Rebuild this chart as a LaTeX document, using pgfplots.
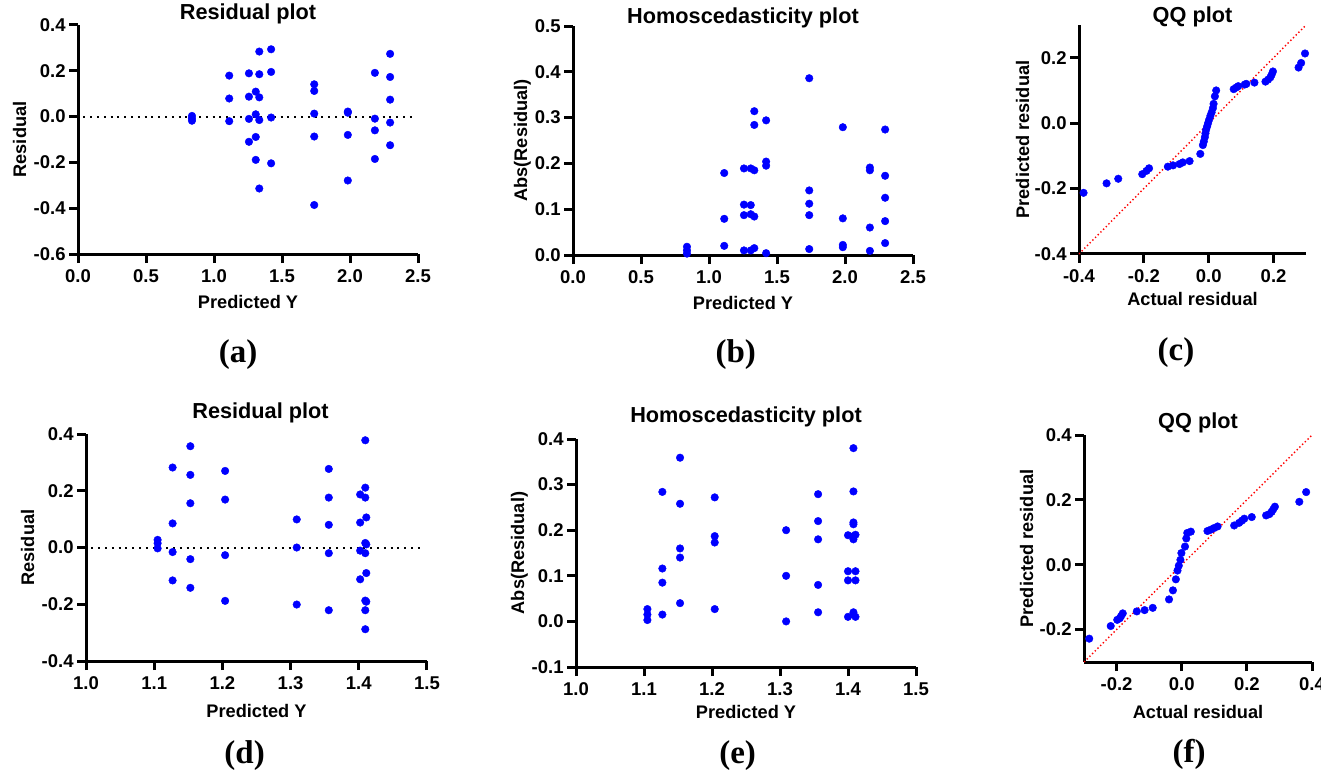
\documentclass[border=0pt]{standalone}
\usepackage{pgfplots}
\pgfplotsset{compat=1.18}
\usepackage{fontspec}
\setmainfont{Liberation Sans}
\newfontfamily\timesbf{Liberation Serif}
\definecolor{pblue}{RGB}{0,0,255}
\definecolor{pred}{RGB}{255,0,0}
\pgfplotsset{
  prism/.style={
    scale only axis, clip=false,
    axis x line*=bottom, axis y line*=left,
    axis line style={line width=1.5pt, -},
    every tick/.style={line width=1.5pt, black},
    major tick length=4.5pt,
    tick align=outside,
    minor tick num=0,
    tick label style={font=\bfseries\fontsize{9.25}{10}\selectfont},
    yticklabel style={inner sep=1.5pt},
    label style={font=\bfseries\fontsize{9.1}{10}\selectfont},
    title style={font=\bfseries\fontsize{10.85}{12}\selectfont},
    /pgf/number format/assume math mode=true,
    /pgf/number format/fixed,
    /pgf/number format/fixed zerofill,
    /pgf/number format/precision=1,
    scaled ticks=false,
  },
  pts/.style={only marks, mark=*, mark size=1.9pt, mark options={fill=pblue, draw=pblue, line width=0.2pt}},
  zeroline/.style={black, line width=1pt, dash pattern=on 1pt off 2.4pt, mark=none},
  diag/.style={pred, line width=0.7pt, dash pattern=on 0.7pt off 1.2pt, mark=none},
}
\begin{document}
\begin{tikzpicture}
\useasboundingbox (0,0) rectangle (660.5pt,-385pt);
% (a)
\begin{axis}[prism, at={(39pt,-127pt)}, anchor=south west, width=170pt, height=114.5pt,
  xmin=0, xmax=2.5, ymin=-0.6, ymax=0.4,
  xtick={0,0.5,1,1.5,2,2.5}, ytick={-0.6,-0.4,-0.2,0,0.2,0.4},
  title={Residual plot}, title style={at={(axis description cs:0.5,1)}, anchor=base, yshift=-3.5pt},
  xlabel={Predicted Y}, xlabel style={at={(axis description cs:0.5,0)}, anchor=base, yshift=-27pt},
  ylabel={Residual}, ylabel style={at={([xshift=-26pt]axis description cs:0,0.5)}, anchor=base, rotate=0}]
\addplot[zeroline] coordinates {(0.04,0) (2.46,0)};
\addplot[pts] coordinates {
(0.838,0.003) (0.838,-0.008) (0.838,-0.018)
(1.112,0.179) (1.112,0.079) (1.112,-0.020)
(1.257,0.189) (1.257,0.087) (1.257,-0.010) (1.257,-0.110)
(1.307,0.109) (1.307,0.010) (1.307,-0.089) (1.307,-0.189)
(1.333,0.284) (1.333,0.185) (1.333,0.084) (1.333,-0.015) (1.333,-0.314)
(1.420,0.294) (1.420,0.195) (1.420,-0.004) (1.420,-0.204)
(1.737,0.141) (1.737,0.112) (1.737,0.013) (1.737,-0.087) (1.737,-0.386)
(1.984,0.022) (1.984,0.017) (1.984,-0.080) (1.984,-0.279)
(2.183,0.191) (2.183,-0.009) (2.183,-0.060) (2.183,-0.185)
(2.295,0.274) (2.295,0.173) (2.295,0.074) (2.295,-0.026) (2.295,-0.125)
};
\end{axis}
% (b)
\begin{axis}[prism, at={(286.5pt,-127.5pt)}, anchor=south west, width=170pt, height=114.5pt,
  xmin=0, xmax=2.5, ymin=0, ymax=0.5,
  xtick={0,0.5,1,1.5,2,2.5}, ytick={0,0.1,0.2,0.3,0.4,0.5},
  title={Homoscedasticity plot}, title style={at={(axis description cs:0.5,1)}, anchor=base, yshift=-4.5pt},
  xlabel={Predicted Y}, xlabel style={at={(axis description cs:0.5,0)}, anchor=base, yshift=-27pt},
  ylabel={Abs(Residual)}, ylabel style={at={([xshift=-23pt]axis description cs:0,0.5)}, anchor=base, rotate=0}]
\addplot[pts] coordinates {
(0.838,0.003) (0.838,0.010) (0.838,0.018)
(1.112,0.179) (1.112,0.079) (1.112,0.020)
(1.257,0.189) (1.257,0.087) (1.257,0.010) (1.257,0.110)
(1.307,0.109) (1.307,0.010) (1.307,0.089) (1.307,0.189)
(1.333,0.284) (1.333,0.185) (1.333,0.084) (1.333,0.015) (1.333,0.314)
(1.420,0.294) (1.420,0.195) (1.420,0.004) (1.420,0.204)
(1.737,0.141) (1.737,0.112) (1.737,0.013) (1.737,0.087) (1.737,0.386)
(1.984,0.022) (1.984,0.017) (1.984,0.080) (1.984,0.279)
(2.183,0.191) (2.183,0.009) (2.183,0.060) (2.183,0.185)
(2.295,0.274) (2.295,0.173) (2.295,0.074) (2.295,0.026) (2.295,0.125)
};
\end{axis}
% (c)
\begin{axis}[prism, at={(539.5pt,-127pt)}, anchor=south west, width=113.5pt, height=114.5pt,
  xmin=-0.4, xmax=0.3, ymin=-0.4, ymax=0.3,
  xtick={-0.4,-0.2,0,0.2}, ytick={-0.4,-0.2,0,0.2},
  title={QQ plot}, title style={at={(axis description cs:0.5,1)}, anchor=base, yshift=-4.5pt},
  xlabel={Actual residual}, xlabel style={at={(axis description cs:0.5,0)}, anchor=base, yshift=-25.5pt},
  ylabel={Predicted residual}, ylabel style={at={([xshift=-25pt]axis description cs:0,0.5)}, anchor=base, rotate=0}]
\addplot[diag] coordinates {(-0.4,-0.4) (0.3,0.3)};
\addplot[pts] coordinates {
(-0.386,-0.213) (-0.315,-0.184) (-0.279,-0.170) (-0.205,-0.156) (-0.192,-0.146)
(-0.184,-0.138) (-0.126,-0.133) (-0.110,-0.129) (-0.090,-0.125) (-0.080,-0.120)
(-0.059,-0.116) (-0.026,-0.094) (-0.018,-0.067) (-0.015,-0.056) (-0.012,-0.043)
(-0.010,-0.031) (-0.008,-0.020) (-0.005,-0.010) (-0.002,0.000) (0.001,0.010)
(0.005,0.022) (0.009,0.033) (0.013,0.046) (0.015,0.059) (0.019,0.082)
(0.023,0.100) (0.077,0.104) (0.085,0.109) (0.091,0.113) (0.111,0.118)
(0.116,0.120) (0.141,0.124) (0.175,0.127) (0.183,0.133) (0.190,0.140)
(0.194,0.148) (0.198,0.158) (0.277,0.170) (0.285,0.184) (0.297,0.213)
};
\end{axis}
% (d)
\begin{axis}[prism, at={(43pt,-330.5pt)}, anchor=south west, width=170.5pt, height=113.5pt,
  xmin=1, xmax=1.5, ymin=-0.4, ymax=0.4,
  xtick={1,1.1,1.2,1.3,1.4,1.5}, ytick={-0.4,-0.2,0,0.2,0.4},
  title={Residual plot}, title style={at={(axis description cs:0.5,1)}, anchor=base, yshift=1.6pt, xshift=2pt},
  xlabel={Predicted Y}, xlabel style={at={(axis description cs:0.5,0)}, anchor=base, yshift=-28pt},
  ylabel={Residual}, ylabel style={at={([xshift=-26pt]axis description cs:0,0.5)}, anchor=base, rotate=0}]
\addplot[zeroline] coordinates {(1.008,0) (1.493,0)};
\addplot[pts] coordinates {
(1.105,0.027) (1.105,0.015) (1.105,-0.003)
(1.127,0.282) (1.127,0.085) (1.127,-0.016) (1.127,-0.116)
(1.153,0.357) (1.153,0.256) (1.153,0.156) (1.153,-0.041) (1.153,-0.142)
(1.204,0.270) (1.204,0.169) (1.204,-0.027) (1.204,-0.188)
(1.309,0.099) (1.309,0.000) (1.309,-0.201)
(1.356,0.277) (1.356,0.176) (1.356,0.080) (1.356,-0.020) (1.356,-0.221)
(1.402,0.187) (1.402,0.088) (1.402,-0.011) (1.402,-0.112)
(1.4095,0.378) (1.4095,0.211) (1.4095,0.176) (1.4095,0.016) (1.4095,-0.020) (1.4095,-0.187) (1.4095,-0.221) (1.4095,-0.288)
(1.411,0.106) (1.411,0.011) (1.411,-0.090) (1.411,-0.191)
};
\end{axis}
% (e)
\begin{axis}[prism, at={(288pt,-333.5pt)}, anchor=south west, width=170pt, height=114pt,
  xmin=1, xmax=1.5, ymin=-0.1, ymax=0.4,
  xtick={1,1.1,1.2,1.3,1.4,1.5}, ytick={-0.1,0,0.1,0.2,0.3,0.4},
  title={Homoscedasticity plot}, title style={at={(axis description cs:0.5,1)}, anchor=base, yshift=2.5pt},
  xlabel={Predicted Y}, xlabel style={at={(axis description cs:0.5,0)}, anchor=base, yshift=-25.5pt},
  ylabel={Abs(Residual)}, ylabel style={at={([xshift=-26pt]axis description cs:0,0.5)}, anchor=base, rotate=0}]
\addplot[pts] coordinates {
(1.105,0.027) (1.105,0.015) (1.105,0.003)
(1.127,0.284) (1.127,0.085) (1.127,0.015) (1.127,0.116)
(1.153,0.359) (1.153,0.258) (1.153,0.160) (1.153,0.040) (1.153,0.140)
(1.204,0.272) (1.204,0.173) (1.204,0.027) (1.204,0.187)
(1.309,0.100) (1.309,0.000) (1.309,0.200)
(1.356,0.279) (1.356,0.180) (1.356,0.080) (1.356,0.020) (1.356,0.220)
(1.400,0.189) (1.400,0.090) (1.400,0.010) (1.400,0.110)
(1.408,0.380) (1.408,0.213) (1.408,0.180) (1.408,0.015) (1.408,0.020) (1.408,0.187) (1.408,0.217) (1.408,0.285)
(1.411,0.110) (1.411,0.010) (1.411,0.090) (1.411,0.190)
};
\end{axis}
% (f)
\begin{axis}[prism, at={(542pt,-331pt)}, anchor=south west, width=114pt, height=113.5pt,
  xmin=-0.3, xmax=0.4, ymin=-0.3, ymax=0.4,
  xtick={-0.2,0,0.2,0.4}, ytick={-0.2,0,0.2,0.4},
  title={QQ plot}, title style={at={(axis description cs:0.5,1)}, anchor=base, yshift=-2.8pt},
  xlabel={Actual residual}, xlabel style={at={(axis description cs:0.5,0)}, anchor=base, yshift=-28pt},
  ylabel={Predicted residual}, ylabel style={at={([xshift=-25.5pt]axis description cs:0,0.5)}, anchor=base, rotate=0}]
\addplot[diag] coordinates {(-0.3,-0.3) (0.4,0.4)};
\addplot[pts] coordinates {
(-0.284,-0.228) (-0.218,-0.189) (-0.198,-0.170) (-0.190,-0.165) (-0.186,-0.158)
(-0.181,-0.150) (-0.138,-0.144) (-0.114,-0.140) (-0.089,-0.133) (-0.039,-0.107)
(-0.027,-0.079) (-0.018,-0.045) (-0.013,-0.018) (-0.009,-0.003) (-0.004,0.015)
(-0.001,0.036) (0.010,0.056) (0.014,0.081) (0.017,0.098) (0.028,0.102)
(0.079,0.104) (0.089,0.108) (0.099,0.113) (0.110,0.118) (0.161,0.121)
(0.176,0.129) (0.185,0.136) (0.192,0.142) (0.215,0.147) (0.259,0.152)
(0.269,0.156) (0.276,0.163) (0.281,0.171) (0.286,0.179) (0.361,0.194)
(0.382,0.224)
};
\end{axis}
% panel labels
\begin{scope}[every node/.style={font=\timesbf\bfseries\fontsize{16.5}{18}\selectfont, anchor=base, inner sep=0pt}]
\node at (119pt,-181pt) {(a)};
\node at (367.9pt,-181pt) {(b)};
\node at (588pt,-180pt) {(c)};
\node at (122.3pt,-381.5pt) {(d)};
\node at (368.8pt,-381.5pt) {(e)};
\node at (594.5pt,-381pt) {(f)};
\end{scope}
\end{tikzpicture}
\end{document}
